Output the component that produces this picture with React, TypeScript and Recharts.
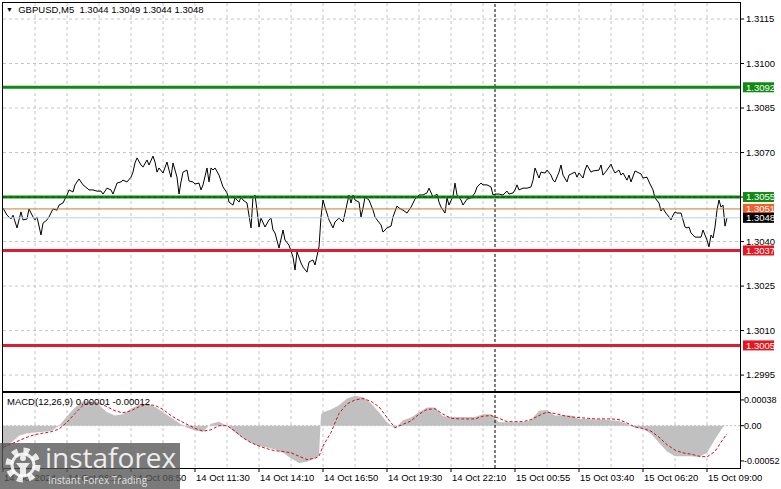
import React from "react";
import { ComposedChart, Line, Area, XAxis, YAxis, CartesianGrid, ReferenceLine } from "recharts";

// ---------- data ----------
const symbolTitle = "GBPUSD,M5";
const ohlcValues = ["1.3044", "1.3049", "1.3044", "1.3048"];
const macdTitle = "MACD(12,26,9) 0.00001 -0.00012";

// bar index (5-minute bars) and close price
const priceBars = [
  0, 2, 4, 5, 7, 8, 9, 10, 12, 13, 15, 16, 17, 19, 20, 22, 23, 25, 27, 28,
  30, 32, 33, 35, 36, 38, 40, 42, 43, 45, 47, 49, 50, 52, 54, 55, 57, 59, 60, 62,
  64, 65, 66, 67, 69, 70, 72, 73, 75, 76, 77, 78, 80, 82, 83, 84, 85, 87, 88, 89,
  90, 92,
  93, 95, 96, 98, 99, 100, 102, 103, 104, 105, 106, 108, 110, 112, 113, 115, 116, 118, 119, 120,
  122, 124, 125, 126, 127, 128, 129, 131, 133, 134, 135, 136, 138, 140, 141, 143, 145, 146, 147, 149,
  150, 152, 153, 155, 156, 158, 159, 160, 161, 163, 165, 166, 168, 170, 171, 173, 174, 175, 176, 178,
  179, 180, 181, 183, 185,
  186, 187, 189, 190, 192, 194, 195, 197, 198, 200, 202, 204, 206, 208, 210, 212, 213, 215, 217, 218,
  219, 221, 222, 223, 225, 226, 227, 229, 230, 232, 234, 236, 237, 239, 240, 242, 244, 245, 246, 248,
  250, 252, 253, 255, 256, 257, 258, 260, 262, 264, 265, 266, 268, 269, 271, 272, 274, 275, 276, 278,
  279, 280, 282, 283, 285, 286, 287, 288, 290, 291, 292, 294, 295, 298, 299, 300, 302, 304, 305, 306,
  308, 309, 310, 312, 313, 314, 316, 318, 319, 320, 322, 323, 325, 326, 328, 329, 330, 331, 333, 334,
  335, 336, 337, 339, 340, 341, 342, 343, 344, 346, 348, 349, 350, 352, 353, 354, 355, 356, 357, 358,
  359, 360, 361, 362,
];
const priceCloses = [
  1.30513, 1.30489, 1.30476, 1.30489, 1.30446, 1.30473, 1.305, 1.30473, 1.30476, 1.3051,
  1.30483, 1.30473, 1.30483, 1.30422, 1.30462, 1.30473, 1.30483, 1.3051, 1.30506, 1.30523,
  1.3053, 1.30557, 1.30574, 1.30567, 1.30591, 1.30611, 1.30591, 1.3058, 1.30574, 1.30574,
  1.3057, 1.3057, 1.3056, 1.3058, 1.30574, 1.3056, 1.30597, 1.30601, 1.30607, 1.30601,
  1.30617, 1.30634, 1.30665, 1.30682, 1.30658, 1.30651, 1.30675, 1.30658, 1.30688, 1.30668,
  1.30634, 1.30648, 1.30631, 1.30668, 1.30641, 1.30617, 1.30665, 1.30617, 1.3056, 1.30601,
  1.30634, 1.30641,
  1.30604, 1.30601, 1.30594, 1.30597, 1.30574, 1.30591, 1.30648, 1.30601, 1.30648, 1.30641,
  1.30648, 1.30624, 1.30584, 1.30564, 1.30533, 1.30523, 1.30547, 1.30533, 1.3055, 1.3054,
  1.3053, 1.30446, 1.3055, 1.30557, 1.30506, 1.30449, 1.30479, 1.30449, 1.30473, 1.30479,
  1.30439, 1.30429, 1.30378, 1.30439, 1.30405, 1.30388, 1.30348, 1.30304, 1.30365, 1.30328,
  1.30314, 1.30297, 1.30331, 1.30338, 1.30321, 1.30382, 1.30483, 1.3054, 1.30516, 1.30473,
  1.30446, 1.30466, 1.30479, 1.30466, 1.30496, 1.30557, 1.3053, 1.30557, 1.3054, 1.30533,
  1.30483, 1.30513, 1.3055, 1.3054, 1.30506,
  1.30483, 1.30473, 1.30456, 1.30432, 1.30446, 1.30452, 1.30483, 1.3052, 1.30513, 1.30506,
  1.30496, 1.30516, 1.30543, 1.30557, 1.30557, 1.30564, 1.3058, 1.3055, 1.3056, 1.30533,
  1.30516, 1.30496, 1.30547, 1.30523, 1.30553, 1.30597, 1.30557, 1.3054, 1.30523, 1.30543,
  1.30547, 1.30564, 1.30584, 1.30597, 1.30591, 1.30591, 1.30584, 1.30557, 1.3056, 1.3056,
  1.30557, 1.3057, 1.3056, 1.30564, 1.30574, 1.30591, 1.30574, 1.3058, 1.3058, 1.30584,
  1.30607, 1.30648, 1.30614, 1.30634, 1.30631, 1.30641, 1.30624, 1.30607, 1.30601, 1.30634,
  1.30658, 1.30624, 1.30601, 1.30624, 1.30631, 1.30634, 1.30617, 1.30631, 1.30614, 1.30641,
  1.30658, 1.30634, 1.30638, 1.30641, 1.30658, 1.30624, 1.30641, 1.30661, 1.30644, 1.30631,
  1.30641, 1.30624, 1.30631, 1.30607, 1.30624, 1.30601, 1.30638, 1.30631, 1.30628, 1.30614,
  1.30617, 1.30601, 1.30574, 1.30547, 1.3053, 1.30503, 1.30513, 1.305, 1.30483, 1.30473,
  1.30489, 1.305, 1.30496, 1.30496, 1.30473, 1.30449, 1.30446, 1.30449, 1.30429, 1.30415,
  1.30415, 1.30415, 1.30439, 1.30405, 1.30382, 1.30422, 1.30412, 1.30449, 1.30506, 1.3054,
  1.30516, 1.30523, 1.30452, 1.3048,
];

const macdBars = [
  0, 4, 8, 12, 16, 20, 24, 28, 32, 36, 40, 44, 48, 52, 56, 60, 64, 68, 72, 76,
  80, 84, 88, 92, 96, 100, 104, 108, 112, 116, 120, 124, 128, 132, 136, 140, 144, 148, 152, 156,
  158, 159, 160, 164, 168, 172, 176, 180, 184, 188, 192, 196, 200, 204, 208, 212, 216, 220, 224, 228,
  232, 236, 240, 244, 248, 252, 256, 260, 264, 268, 272, 276, 280, 284, 288, 292, 296, 300, 304, 308,
  312, 316, 320, 324, 328, 332, 336, 340, 344, 348, 352, 356, 360, 362,
];
const macdHist = [
  -0.00035, -0.00025, -0.00015, -0.00011, -0.0001, -0.00009, -0.00008, 0, 0.00014, 0.00027,
  0.00036, 0.00035, 0.0003, 0.0002, 0.00015, 0.00017, 0.00025, 0.00031, 0.00032, 0.00028,
  0.0002, 0.00012, 0.00004, -0.00003, -0.00007, -0.00009, 0.00003, 0.00006, 0, -0.0001,
  -0.00018, -0.00025, -0.0003, -0.00032, -0.00035, -0.0004, -0.00048, -0.00055, -0.00053, -0.00048,
  -0.00044, 0.00016, 0.0002, 0.00024, 0.0003, 0.0004, 0.00044, 0.00042, 0.00033, 0.0002,
  0.00005, -0.00004, 0.00008, 0.00012, 0.0002, 0.00027, 0.00027, 0.00014, 0.00013, 0.00013,
  0.00013, 0.00013, 0.00017, 0.00017, 0.00005, 0.00005, 0.00005, 0.00005, 0.00008, 0.00022,
  0.00023, 0.00015, 0.00015, 0.00015, 0.0001, 0.0001, 0.00009, 0.00009, 0.00008, 0.00007,
  0.00003, -0.00003, -0.00005, -0.00012, -0.00025, -0.00038, -0.00045, -0.00045, -0.00045, -0.00046,
  -0.0004, -0.0002, -0.00002, 0.00001,
];
const macdSignal = [
  -0.00032, -0.00027, -0.00022, -0.00017, -0.00013, -0.00011, -0.00009, -0.00005, 0.00005, 0.00018,
  0.0003, 0.00034, 0.00033, 0.00028, 0.00022, 0.00019, 0.00022, 0.00028, 0.00031, 0.0003,
  0.00024, 0.00015, 0.00008, 0.00002, -0.00004, -0.00008, -0.00006, 0, 0, -0.00008,
  -0.00018, -0.00025, -0.0003, -0.00034, -0.00037, -0.00038, -0.0004, -0.00045, -0.0005, -0.00048,
  -0.00045, -0.00038, -0.0003, -0.0001, 0.00018, 0.00032, 0.00038, 0.0004, 0.00036, 0.00028,
  0.00012, -0.00003, 0.00002, 0.00007, 0.00017, 0.00024, 0.00025, 0.00017, 0.00011, 0.0001,
  0.0001, 0.0001, 0.00014, 0.00015, 0.00011, 0.00006, 0.00006, 0.00006, 0.00009, 0.00015,
  0.0002, 0.00018, 0.00015, 0.00013, 0.00012, 0.00011, 0.0001, 0.0001, 0.0001, 0.00009,
  0.00004, -0.00002, -0.00004, -0.00008, -0.00017, -0.00028, -0.00036, -0.0004, -0.00042, -0.00045,
  -0.00046, -0.00038, -0.0002, -0.00012,
];

const priceTicks = [1.2995, 1.301, 1.3025, 1.304, 1.3055, 1.307, 1.3085, 1.31, 1.3115];
const macdTicks = [0.00038, 0, -0.00052];
const macdTickLabels = ["0.00038", "0.00", "-0.00052"];
const timeTickBars = [0, 32, 64, 96, 128, 160, 192, 224, 256, 288, 320, 352];
const timeTickLabels = [
  "14 Oct 2024", "14 Oct 06:10", "14 Oct 08:50", "14 Oct 11:30", "14 Oct 14:10", "14 Oct 16:50",
  "14 Oct 19:30", "14 Oct 22:10", "15 Oct 00:55", "15 Oct 03:40", "15 Oct 06:20", "15 Oct 09:00",
];
const gridBars = [16, 32, 48, 64, 80, 96, 112, 128, 144, 160, 176, 192, 208, 224, 240, 256, 272, 288, 304, 320, 336, 352];
const separatorBar = 246;
const levelValues = [1.3092, 1.3055, 1.3051, 1.3048, 1.3037, 1.3005];
const levelLabels = ["1.3092", "1.3055", "1.3051", "1.3048", "1.3037", "1.3005"];

// ---------- styles ----------
const FONT = '"Liberation Sans", Arial, sans-serif';
const PRICE_DOMAIN: [number, number] = [1.29893, 1.31204];
const BAR_DOMAIN: [number, number] = [0, 368.5];
const levelStyles = [
  { stroke: "#118a11", width: 3, tag: "#118a11", text: "#ffffff" },
  { stroke: "#118a11", width: 3, tag: "#118a11", text: "#ffffff" },
  { stroke: "#cf7a3a", width: 1, tag: "#f0602a", text: "#ffffff" },
  { stroke: "#b8d4e0", width: 1, tag: "#000000", text: "#ffffff" },
  { stroke: "#dc1e32", width: 3, tag: "#e8141e", text: "#ffffff" },
  { stroke: "#dc1e32", width: 3, tag: "#e8141e", text: "#ffffff" },
];

const PriceTag = (props: any) => {
  const { viewBox, text, bg, color } = props;
  if (!viewBox) return null;
  const x = viewBox.x + viewBox.width;
  const y = viewBox.y;
  return (
    <g>
      <rect x={x + 3} y={y - 5} width={31} height={10} fill={bg} />
      <text x={x + 6} y={y} dy="0.35em" fill={color} fontSize={9.5} fontFamily={FONT}>
        {text}
      </text>
    </g>
  );
};

const TimeTick = (props: any) => {
  const { x, y, payload } = props;
  const idx = timeTickBars.indexOf(payload.value);
  return (
    <text x={x + 1} y={y} dy="0.71em" textAnchor="start" fill="#000" fontSize={9.5} fontFamily={FONT}>
      {idx >= 0 ? timeTickLabels[idx] : ""}
    </text>
  );
};

const Gear = () => (
  <svg width={40} height={40} style={{ position: "absolute", left: 3, top: 2 }}>
    <circle cx={20} cy={20} r={14} fill="none" stroke="rgba(255,255,255,0.85)" strokeWidth={7} strokeDasharray="5.5 5.5" />
    <circle cx={20} cy={20} r={11} fill="none" stroke="rgba(255,255,255,0.85)" strokeWidth={3} />
    <circle cx={20} cy={13} r={3} fill="rgba(255,255,255,0.85)" />
    <path d="M13 18 L27 18 L23 23 L23 31 L17 31 L17 23 Z" fill="rgba(255,255,255,0.85)" />
  </svg>
);

export default function App() {
  const priceData = priceBars.map((bar, i) => ({ bar, close: priceCloses[i] }));
  const macdData = macdBars.map((bar, i) => ({ bar, hist: macdHist[i], signal: macdSignal[i] }));

  return (
    <div
      style={{
        position: "absolute",
        left: 0,
        top: 0,
        width: 781,
        height: 489,
        background: "#ffffff",
        overflow: "hidden",
        fontFamily: FONT,
      }}
    >
      {/* main price panel */}
      <div style={{ position: "absolute", left: 0, top: 0 }}>
        <ComposedChart width={781} height={395} data={priceData} margin={{ top: 3, right: 0, bottom: 3, left: 3 }}>
          <CartesianGrid
            stroke="#c4c4c4"
            strokeDasharray="3 3"
            verticalValues={gridBars}
            horizontalValues={priceTicks}
          />
          <XAxis type="number" dataKey="bar" domain={BAR_DOMAIN} ticks={gridBars} hide allowDataOverflow />
          <YAxis
            orientation="right"
            type="number"
            width={41}
            domain={PRICE_DOMAIN}
            ticks={priceTicks}
            interval={0}
            allowDataOverflow
            axisLine={false}
            tickSize={4}
            tickMargin={2}
            tickLine={{ stroke: "#000" }}
            tick={{ fill: "#000", fontSize: 9.5, fontFamily: FONT }}
            tickFormatter={(v: number) => v.toFixed(4)}
          />
          <ReferenceLine x={separatorBar} stroke="#000" strokeDasharray="3 2" />
          <Line
            type="linear"
            dataKey="close"
            stroke="#000"
            strokeWidth={1}
            dot={false}
            isAnimationActive={false}
          />
        </ComposedChart>
      </div>

      {/* level lines and price tags, drawn above the axis labels */}
      <div style={{ position: "absolute", left: 0, top: 0, pointerEvents: "none" }}>
        <ComposedChart width={781} height={395} data={priceData} margin={{ top: 3, right: 41, bottom: 3, left: 3 }}>
          <XAxis type="number" dataKey="bar" domain={BAR_DOMAIN} hide allowDataOverflow />
          <YAxis type="number" domain={PRICE_DOMAIN} hide allowDataOverflow />
          {levelValues.map((v, i) => (
            <ReferenceLine
              key={"lvl" + i}
              y={v}
              stroke={levelStyles[i].stroke}
              strokeWidth={levelStyles[i].width}
              label={<PriceTag text={levelLabels[i]} bg={levelStyles[i].tag} color={levelStyles[i].text} />}
            />
          ))}
          <ReferenceLine y={levelValues[1]} stroke="#0b4f0b" strokeWidth={1} strokeDasharray="4 2" />
        </ComposedChart>
      </div>

      {/* MACD panel */}
      <div style={{ position: "absolute", left: 0, top: 389 }}>
        <ComposedChart width={781} height={100} data={macdData} margin={{ top: 3, right: 0, bottom: 0, left: 3 }}>
          <CartesianGrid stroke="#c4c4c4" strokeDasharray="3 3" horizontal={false} verticalValues={gridBars} />
          <XAxis
            type="number"
            dataKey="bar"
            domain={BAR_DOMAIN}
            ticks={timeTickBars}
            interval={0}
            height={21}
            allowDataOverflow
            axisLine={false}
            tickSize={4}
            tickMargin={2}
            tickLine={{ stroke: "#000" }}
            tick={<TimeTick />}
          />
          <YAxis
            orientation="right"
            type="number"
            width={41}
            domain={[-0.000624, 0.000497]}
            ticks={macdTicks}
            interval={0}
            allowDataOverflow
            axisLine={false}
            tickSize={4}
            tickMargin={0}
            tickLine={{ stroke: "#000" }}
            tick={{ fill: "#000", fontSize: 9, fontFamily: FONT }}
            tickFormatter={(v: number) => macdTickLabels[macdTicks.indexOf(v)] ?? String(v)}
          />
          <ReferenceLine y={0} stroke="#c0c0c0" strokeDasharray="2 2" />
          <Area
            type="linear"
            dataKey="hist"
            baseValue={0}
            stroke="none"
            fill="#c0c0c0"
            fillOpacity={1}
            isAnimationActive={false}
          />
          <ReferenceLine x={separatorBar} stroke="#000" strokeDasharray="3 2" />
          <Line
            type="linear"
            dataKey="signal"
            stroke="#d0101a"
            strokeWidth={1}
            strokeDasharray="3 2"
            dot={false}
            isAnimationActive={false}
          />
        </ComposedChart>
      </div>

      {/* frames */}
      <div style={{ position: "absolute", left: 2, top: 2, width: 737, height: 388, border: "1px solid #000", pointerEvents: "none" }} />
      <div style={{ position: "absolute", left: 2, top: 392, width: 737, height: 75, border: "1px solid #000", pointerEvents: "none" }} />

      {/* titles */}
      <div style={{ position: "absolute", left: 6, top: 4, fontSize: 9.5, lineHeight: "12px", color: "#000", whiteSpace: "pre" }}>
        <span style={{ fontSize: 7, position: "relative", top: -1 }}>▼</span>
        {"  " + symbolTitle + "  " + ohlcValues.join(" ")}
      </div>
      <div style={{ position: "absolute", left: 7, top: 396, fontSize: 9.5, lineHeight: "12px", color: "#000", whiteSpace: "pre" }}>
        {macdTitle}
      </div>

      {/* watermark */}
      <div style={{ position: "absolute", left: 0, top: 443, width: 180, height: 46, background: "rgba(85,85,85,0.78)" }}>
        <Gear />
        <div
          style={{
            position: "absolute",
            left: 45,
            top: -1,
            fontFamily: '"Open Sans", sans-serif',
            fontSize: 28,
            lineHeight: "30px",
            color: "rgba(255,255,255,0.88)",
          }}
        >
          instaforex
        </div>
        <div
          style={{
            position: "absolute",
            left: 48,
            top: 31,
            fontFamily: '"Open Sans", sans-serif',
            fontSize: 10,
            lineHeight: "12px",
            color: "rgba(255,255,255,0.8)",
          }}
        >
          Instant Forex Trading
        </div>
      </div>
    </div>
  );
}
